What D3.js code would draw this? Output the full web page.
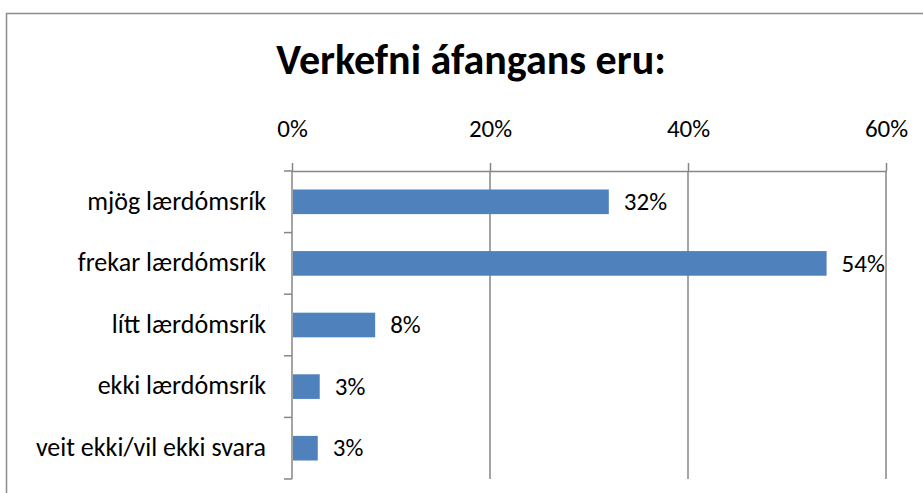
<!DOCTYPE html>
<html>
<head>
<meta charset="utf-8">
<script src="https://cdn.jsdelivr.net/npm/d3@7"></script>
<style>
  body { margin: 0; background: #fff; }
  text { font-family: Carlito, Lato, "Open Sans", sans-serif; fill: #000; }
</style>
</head>
<body>
<div class="chart"></div>
<script>
const categories = ["mjög lærdómsrík", "frekar lærdómsrík", "lítt lærdómsrík", "ekki lærdómsrík", "veit ekki/vil ekki svara"];
const values = [32, 54, 8.4, 2.8, 2.6];
const labels = ["32%", "54%", "8%", "3%", "3%"];
const ticks = [0, 20, 40, 60];
const title = "Verkefni áfangans eru:";

const width = 923, height = 493;
const margin = { top: 171, right: 37, bottom: 14, left: 292 };

const data = categories.map((c, i) => ({ cat: c, value: values[i], label: labels[i] }));

const svg = d3.select(".chart")
    .append("svg")
    .attr("width", width)
    .attr("height", height);

// outer frame (runs off the right and bottom edges)
svg.append("rect")
    .attr("x", 6.5).attr("y", 13.5)
    .attr("width", 940).attr("height", 500)
    .attr("fill", "none")
    .attr("stroke", "#8c8c8c")
    .attr("stroke-width", 1.5);

const x = d3.scaleLinear()
    .domain([0, 60])
    .range([margin.left, width - margin.right]);

const y = d3.scaleBand()
    .domain(categories)
    .range([margin.top, height - margin.bottom])
    .paddingInner(0.6)
    .paddingOuter(0.3);

svg.append("text")
    .attr("x", 471)
    .attr("y", 74)
    .attr("text-anchor", "middle")
    .attr("font-size", 42)
    .attr("font-weight", "bold")
    .text(title);

// gridlines
svg.append("g")
    .selectAll("line")
    .data(ticks.slice(1))
    .join("line")
    .attr("x1", d => x(d)).attr("x2", d => x(d))
    .attr("y1", margin.top).attr("y2", height - margin.bottom)
    .attr("stroke", "#868686")
    .attr("stroke-width", 1.5);

// top axis
svg.append("g")
    .attr("transform", `translate(0,${margin.top})`)
    .call(d3.axisTop(x).tickValues(ticks).tickFormat(d => d + "%").tickSize(8).tickSizeOuter(0).tickPadding(26))
    .call(g => g.selectAll("line, path").attr("stroke", "#868686").attr("stroke-width", 1.5))
    .call(g => g.selectAll("text").attr("font-size", 25).attr("font-family", null).attr("fill", "#000"));

// left axis with ticks between categories
const yEdges = d3.range(categories.length + 1).map(i => margin.top + i * y.step());
svg.append("g")
    .selectAll("line")
    .data(yEdges)
    .join("line")
    .attr("x1", margin.left - 8).attr("x2", margin.left)
    .attr("y1", d => d).attr("y2", d => d)
    .attr("stroke", "#868686")
    .attr("stroke-width", 1.5);

svg.append("line")
    .attr("x1", margin.left).attr("x2", margin.left)
    .attr("y1", margin.top).attr("y2", height - margin.bottom)
    .attr("stroke", "#868686")
    .attr("stroke-width", 1.5);

svg.append("g")
    .selectAll("text")
    .data(data)
    .join("text")
    .attr("x", margin.left - 26)
    .attr("y", d => y(d.cat) + y.bandwidth() / 2)
    .attr("dy", "0.3em")
    .attr("text-anchor", "end")
    .attr("font-size", 26)
    .text(d => d.cat);

// bars
svg.append("g")
    .selectAll("rect")
    .data(data)
    .join("rect")
    .attr("x", x(0) + 1)
    .attr("y", d => y(d.cat))
    .attr("width", d => x(d.value) - x(0) - 1)
    .attr("height", y.bandwidth())
    .attr("fill", "#4f81bd");

svg.append("g")
    .selectAll("text")
    .data(data)
    .join("text")
    .attr("x", d => x(d.value) + 15)
    .attr("y", d => y(d.cat) + y.bandwidth() / 2)
    .attr("dy", "0.33em")
    .attr("font-size", 25)
    .text(d => d.label);
</script>
</body>
</html>
